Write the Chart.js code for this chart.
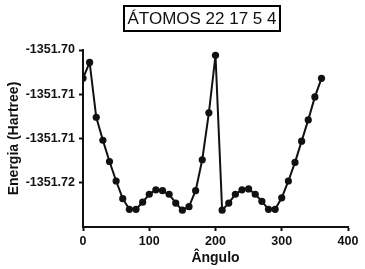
<!DOCTYPE html>
<html>
<head>
<meta charset="utf-8">
<script src="https://cdn.jsdelivr.net/npm/chart.js@4"></script>
<style>
  html, body { margin: 0; padding: 0; background: #fff; }
  #wrap { position: relative; width: 365px; height: 269px; }
  #titleBox {
    position: absolute; left: 123px; top: 5px; width: 154px; height: 23px;
    border: 2px solid #000; font: 17px "Liberation Sans", Arial, sans-serif;
    line-height: 24px; text-align: center; color: #111;
  }
  canvas { position: absolute; left: 0; top: 0; }
</style>
</head>
<body>
<div id="wrap">
  <canvas id="energyChart" width="365" height="269"></canvas>
  <div id="titleBox">ÁTOMOS 22 17 5 4</div>
</div>
<script>
// angles (degrees)
const angles = [0, 10, 20, 30, 40, 50, 60, 70, 80, 90, 100, 110, 120, 130, 140, 150, 160, 170, 180,
  190, 200, 210, 220, 230, 240, 250, 260, 270, 280, 290, 300, 310, 320, 330, 340, 350, 360];

// energy (Hartree)
const energies = [
  -1351.7032, -1351.7014, -1351.7076, -1351.7102, -1351.7126, -1351.7148, -1351.7168,
  -1351.7180, -1351.7180, -1351.7172, -1351.7163, -1351.7158, -1351.7159, -1351.7163,
  -1351.7173, -1351.7181, -1351.7177, -1351.7159, -1351.7124, -1351.7071, -1351.7006,
  -1351.7181, -1351.7173, -1351.7163, -1351.7158, -1351.7157, -1351.7163, -1351.7171,
  -1351.7180, -1351.7180, -1351.7167, -1351.7148, -1351.7127, -1351.7103, -1351.7079,
  -1351.7053, -1351.7032
];

const yTickValues = [-1351.715, -1351.710, -1351.705, -1351.700];
const yTickLabels = ['-1351.72', '-1351.71', '-1351.71', '-1351.70'];
const xTickValues = [0, 100, 200, 300, 400];

const font = "'Liberation Sans', Arial, sans-serif";

new Chart(document.getElementById('energyChart').getContext('2d'), {
  type: 'line',
  data: {
    datasets: [{
      data: angles.map((a, i) => ({ x: a, y: energies[i] })),
      borderColor: '#111',
      backgroundColor: '#111',
      borderWidth: 2,
      pointRadius: 3.6,
      pointBackgroundColor: '#111',
      pointBorderWidth: 0,
      tension: 0
    }]
  },
  options: {
    responsive: false,
    animation: false,
    layout: { padding: { top: 50, right: 17, bottom: 0, left: 0 } },
    plugins: { legend: { display: false }, tooltip: { enabled: false } },
    scales: {
      x: {
        type: 'linear',
        min: 0,
        max: 400,
        afterBuildTicks: s => { s.ticks = xTickValues.map(v => ({ value: v })); },
        afterFit: s => { s.height = 42; },
        border: { display: true, color: '#111', width: 2 },
        grid: { drawOnChartArea: false, drawTicks: true, tickLength: 4, tickWidth: 2, tickColor: '#111' },
        ticks: { color: '#111', padding: 3, font: { family: font, size: 12.5, weight: 'bold' } },
        title: {
          display: true, text: 'Ângulo', color: '#111',
          padding: { top: 2, bottom: 2 },
          font: { family: font, size: 14, weight: 'bold' }
        }
      },
      y: {
        type: 'linear',
        min: -1351.72,
        max: -1351.70,
        afterBuildTicks: s => { s.ticks = yTickValues.map(v => ({ value: v })); },
        afterFit: s => { s.width = 83; },
        border: { display: true, color: '#111', width: 2 },
        grid: { drawOnChartArea: false, drawTicks: true, tickLength: 4, tickWidth: 2, tickColor: '#111' },
        ticks: {
          color: '#111', padding: 4,
          font: { family: font, size: 12.5, weight: 'bold' },
          callback: (v, i) => yTickLabels[i]
        },
        title: {
          display: true, text: 'Energia (Hartree)', color: '#111',
          padding: { top: 6, bottom: 4 },
          font: { family: font, size: 14, weight: 'bold' }
        }
      }
    }
  }
});
</script>
</body>
</html>
